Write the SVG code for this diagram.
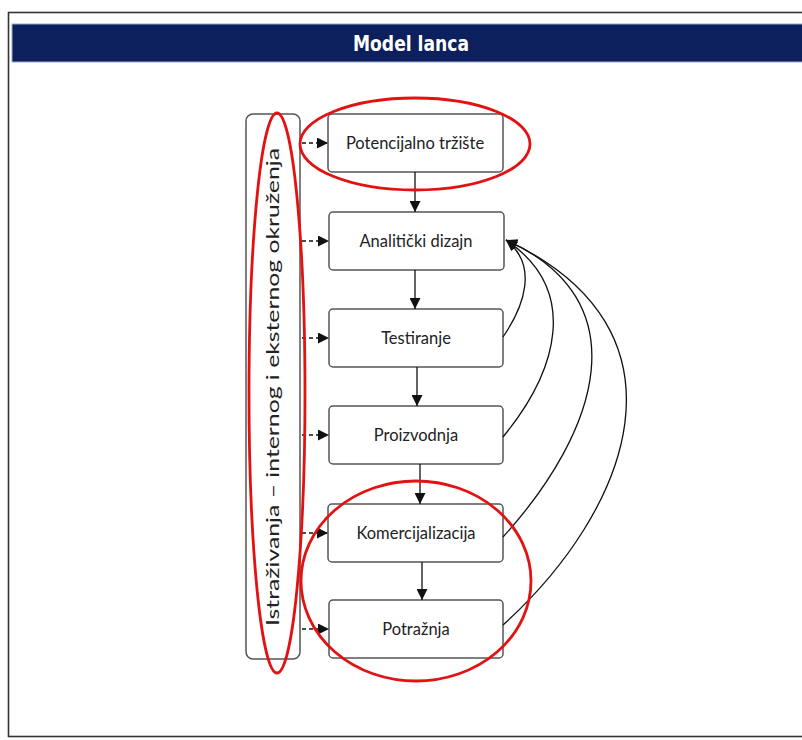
<svg xmlns="http://www.w3.org/2000/svg" width="802" height="740" viewBox="0 0 802 740">
<defs>
<marker id="ah" viewBox="0 0 10 10" refX="10" refY="5" markerWidth="11" markerHeight="11" markerUnits="userSpaceOnUse" orient="auto">
<path d="M0,0 L10,5 L0,10 Z" fill="#111"/>
</marker>
<marker id="ah2" viewBox="0 0 10 10" refX="10" refY="5" markerWidth="11" markerHeight="11" markerUnits="userSpaceOnUse" orient="auto">
<path d="M0,0 L10,5 L0,10 Z" fill="#111"/>
</marker>
</defs>
<style>
.box{fill:#fff;stroke:#555;stroke-width:1.5}
.lbl{font-family:Lato,"Liberation Sans",sans-serif;font-size:16.5px;fill:#222;text-anchor:middle}
.solid{fill:none;stroke:#111;stroke-width:1.3}
.dash{fill:none;stroke:#111;stroke-width:1.6;stroke-dasharray:4,3}
.ring{fill:none;stroke:#e31212;stroke-width:2.8}
</style>
<rect x="0" y="0" width="802" height="740" fill="#fff"/>
<rect x="8.5" y="12.5" width="800" height="724" fill="#fff" stroke="#333" stroke-width="1.6"/>
<g id="header">
<rect x="12" y="24" width="792" height="38" fill="#0b205c" stroke="#9aaacb" stroke-width="1"/>
<text x="411" y="51" font-family="'DejaVu Sans Condensed','Liberation Sans',sans-serif" font-weight="bold" font-size="22" fill="#fff" text-anchor="middle" textLength="116" lengthAdjust="spacingAndGlyphs">Model lanca</text>
</g>
<g id="istrazivanja">
<rect class="box" x="246" y="114" width="54" height="545" rx="7"/>
<text transform="translate(279,387) rotate(-90)" font-family="Lato,'Liberation Sans',sans-serif" font-size="17" fill="#222" text-anchor="middle" textLength="478" lengthAdjust="spacingAndGlyphs">Istraživanja – internog i eksternog okruženja</text>
</g>
<g id="n1"><rect class="box" x="328" y="114" width="175" height="58" rx="4"/><text class="lbl" x="415" y="149">Potencijalno tržište</text></g>
<g id="n2"><rect class="box" x="329" y="212" width="175" height="58" rx="4"/><text class="lbl" x="416" y="247">Analitički dizajn</text></g>
<g id="n3"><rect class="box" x="329" y="309" width="174" height="58" rx="4"/><text class="lbl" x="416" y="344">Testiranje</text></g>
<g id="n4"><rect class="box" x="329" y="406" width="174" height="58" rx="4"/><text class="lbl" x="416" y="441">Proizvodnja</text></g>
<g id="n5"><rect class="box" x="328" y="504" width="175" height="58" rx="4"/><text class="lbl" x="416" y="539">Komercijalizacija</text></g>
<g id="n6"><rect class="box" x="329" y="600" width="174" height="58" rx="4"/><text class="lbl" x="416" y="635">Potražnja</text></g>
<g id="connectors">
<path class="solid" d="M415,172 V212" marker-end="url(#ah)"/>
<path class="solid" d="M415,270 V309" marker-end="url(#ah)"/>
<path class="solid" d="M417,367 V406" marker-end="url(#ah)"/>
<path class="solid" d="M420,464 V504" marker-end="url(#ah)"/>
<path class="solid" d="M422,562 V600" marker-end="url(#ah)"/>
<path class="dash" d="M302,143 H328" marker-end="url(#ah)"/>
<path class="dash" d="M302,241 H329" marker-end="url(#ah)"/>
<path class="dash" d="M302,338 H329" marker-end="url(#ah)"/>
<path class="dash" d="M302,435 H329" marker-end="url(#ah)"/>
<path class="dash" d="M302,533 H328" marker-end="url(#ah)"/>
<path class="dash" d="M302,629 H329" marker-end="url(#ah)"/>
<path class="solid" d="M503,337 C525,305 538,265 506,240" marker-end="url(#ah2)"/>
<path class="solid" d="M503,437 C558,370 580,290 506,240" marker-end="url(#ah2)"/>
<path class="solid" d="M503,537 C600,430 640,300 506,240" marker-end="url(#ah2)"/>
<path class="solid" d="M503,625 C630,510 700,330 506,240" marker-end="url(#ah2)"/>
</g>
<g id="highlights">
<ellipse class="ring" cx="415" cy="144" rx="115" ry="46"/>
<ellipse class="ring" cx="277" cy="393" rx="28" ry="280"/>
<ellipse class="ring" cx="416" cy="581" rx="115" ry="100"/>
</g>
</svg>
